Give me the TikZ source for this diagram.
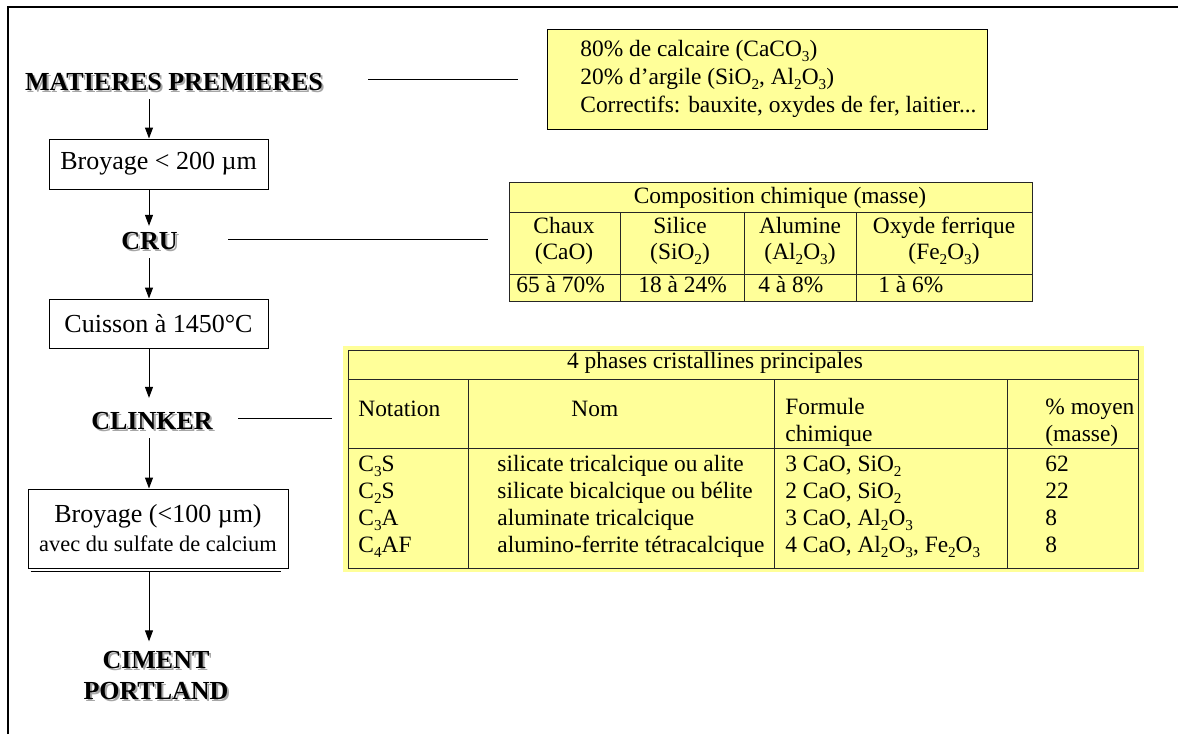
\documentclass[tikz,border=0pt]{standalone}
\usepackage{fontspec}
\setmainfont{Liberation Serif}
\usetikzlibrary{arrows.meta}
\definecolor{paleyellow}{HTML}{FFFF99}
\newcommand{\shadowed}[1]{\makebox[0pt][l]{\kern1pt\raisebox{-1pt}{\textcolor{black!35}{#1}}}#1}
\newcommand{\lo}[1]{\raisebox{-0.5ex}{\fontsize{7.6}{8}\selectfont #1}}
\begin{document}
\begin{tikzpicture}[x=0.5pt,y=-0.5pt,
   heading/.style={font=\fontsize{13}{15.5}\selectfont\bfseries, inner sep=0pt, align=center},
   stage/.style={draw, line width=0.5pt, font=\fontsize{13}{14.5}\selectfont, inner sep=0pt},
   cell/.style={font=\fontsize{11.7}{14}\selectfont, inner sep=0pt, anchor=mid west},
   ccell/.style={font=\fontsize{11.7}{14}\selectfont, inner sep=0pt, anchor=mid},
   flow/.style={-{Triangle[width=4pt,length=5.5pt]}, line width=0.5pt},
   link/.style={line width=0.5pt},
   grid/.style={line width=0.5pt, draw=black!85}]
   \useasboundingbox (0,0) rectangle (1178,734);
   \draw[line width=1.2pt] (8,734) -- (8,7) -- (1178,7);
   % etapes de fabrication
   \coordinate (col) at (149,0);
   \node[heading] (mp) at (174,83) {\shadowed{MATIERES PREMIERES}};
   \node[stage, minimum width=109.5pt, minimum height=25pt] (br1) at (158.5,164) {Broyage < 200 µm};
   \node[heading] (cru) at (149.5,242) {\shadowed{CRU}};
   \node[stage, minimum width=109.5pt, minimum height=24.5pt] (cuis) at (158.5,323.5) {Cuisson à 1450°C};
   \node[heading] (clk) at (152,422) {\shadowed{CLINKER}};
   \node[stage, minimum width=130pt, minimum height=39.5pt, align=center] (br2) at (158,528.5)
      {Broyage (<100 µm)\\{\fontsize{11.2}{13}\selectfont avec du sulfate de calcium}};
   \draw[line width=0.5pt] ([xshift=1.5pt,yshift=-1.5pt]br2.south west) -- ([xshift=-4pt,yshift=-1.5pt]br2.south east);
   \node[heading] (cim) at (156,677) {\shadowed{CIMENT}\\\shadowed{PORTLAND}};
   \draw[flow] ([yshift=-3pt]mp.south -| col) -- (br1.north -| col);
   \draw[flow] (br1.south -| col) -- ([yshift=3pt]cru.north -| col);
   \draw[flow] ([yshift=-3pt]cru.south -| col) -- (cuis.north -| col);
   \draw[flow] (cuis.south -| col) -- ([yshift=7pt]clk.north -| col);
   \draw[flow] ([yshift=-3pt]clk.south -| col) -- (br2.north -| col);
   \draw[flow] ([yshift=-1.5pt]br2.south -| col) -- ([yshift=5pt]cim.north -| col);
   % matieres premieres
   \node[draw, fill=paleyellow, line width=0.5pt, minimum width=220pt, minimum height=50pt, inner sep=0pt] (raw) at (767,79) {};
   \node[cell, anchor=west, align=left] (rawtxt) at (580,79)
      {80\% de calcaire (CaCO\lo{3})\\20\% d’argile (SiO\lo{2}, Al\lo{2}O\lo{3})\\Correctifs: bauxite, oxydes de fer, laitier...};
   \coordinate (mplink) at (368,79);
   \draw[link, shorten >=14.5pt] (mplink) -- (mplink -| raw.west);
   % composition du cru
   \node[grid, fill=paleyellow, minimum width=261.5pt, minimum height=59.5pt, inner sep=0pt] (comp) at (770.5,241.5) {};
   \draw[grid] (509,212) -- (1032,212) (509,274) -- (1032,274);
   \draw[grid] (620,212) -- (620,301) (744,212) -- (744,301) (856,212) -- (856,301);
   \node[ccell] (comph) at (780,199) {Composition chimique (masse)};
   \node[ccell] (ca1) at (564,229) {Chaux};
   \node[ccell] (ca2) at (564,255) {(CaO)};
   \node[ccell] (si1) at (680,229) {Silice};
   \node[ccell] (si2) at (680,255) {(SiO\lo{2})};
   \node[ccell] (al1) at (800,229) {Alumine};
   \node[ccell] (al2) at (800,255) {(Al\lo{2}O\lo{3})};
   \node[ccell] (fe1) at (944,229) {Oxyde ferrique};
   \node[ccell] (fe2) at (944,255) {(Fe\lo{2}O\lo{3})};
   \node[cell] (cav) at (516,288) {65 à 70\%};
   \node[cell] (siv) at (638,288) {18 à 24\%};
   \node[cell] (alv) at (758,288) {4 à 8\%};
   \node[cell] (fev) at (878,288) {1 à 6\%};
   \coordinate (crulink) at (228,239);
   \draw[link, shorten >=10.5pt] (crulink) -- (crulink -| comp.west);
   % phases du clinker
   \fill[paleyellow] (343,346) rectangle (1144,572);
   \node[grid, fill=paleyellow, minimum width=395pt, minimum height=109pt, inner sep=0pt] (phases) at (743,459) {};
   \draw[grid] (348,379) -- (1138,379) (348,448) -- (1138,448);
   \draw[grid] (468,379) -- (468,568) (774,379) -- (774,568) (1007,379) -- (1007,568);
   \node[ccell] (phh) at (715,364) {4 phases cristallines principales};
   \node[cell] (hnot) at (358,412) {Notation};
   \node[cell] (hnom) at (571,412) {Nom};
   \node[cell] (hfor) at (785,410) {Formule};
   \node[cell] (hfor2) at (785,437) {chimique};
   \node[cell] (hpct) at (1045,410) {\% moyen};
   \node[cell] (hpct2) at (1045,437) {(masse)};
   \foreach \y/\n/\nm/\f/\p [count=\i] in {467/C\lo{3}S/silicate tricalcique ou alite/{3 CaO, SiO\lo{2}}/62,
         494/C\lo{2}S/silicate bicalcique ou bélite/{2 CaO, SiO\lo{2}}/22,
         521/C\lo{3}A/aluminate tricalcique/{3 CaO, Al\lo{2}O\lo{3}}/8,
         548/C\lo{4}AF/alumino-ferrite tétracalcique/{4 CaO, Al\lo{2}O\lo{3}, Fe\lo{2}O\lo{3}}/8} {
      \node[cell] (not\i) at (358,\y) {\n};
      \node[cell] (nom\i) at (497,\y) {\nm};
      \node[cell] (for\i) at (785,\y) {\f};
      \node[cell] (pct\i) at (1045,\y) {\p};
   }
   \coordinate (clklink) at (238,418);
   \draw[link, shorten >=8pt] (clklink) -- (clklink -| phases.west);
\end{tikzpicture}
\end{document}
